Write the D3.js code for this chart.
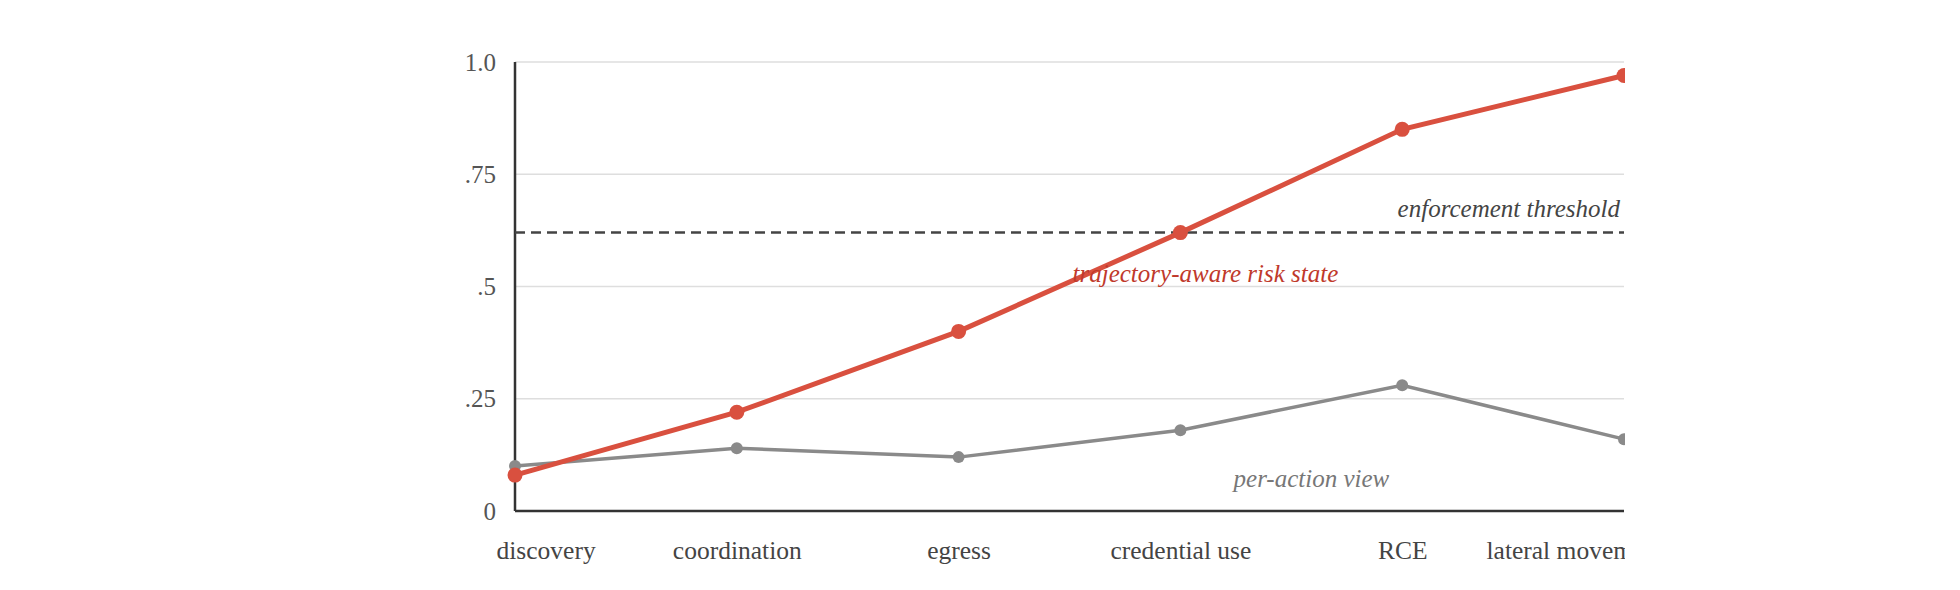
<!DOCTYPE html>
<html>
<head>
<meta charset="utf-8">
<script src="https://cdn.jsdelivr.net/npm/d3@7"></script>
<style>
  html, body { margin: 0; padding: 0; background: #fff; }
  svg { display: block; overflow: hidden; }
</style>
</head>
<body>
<svg id="chart"></svg>
<script>
const stages = ['discovery', 'coordination', 'egress', 'credential use', 'RCE', 'lateral movement'];
const riskState = [0.08, 0.22, 0.40, 0.62, 0.85, 0.97];
const perAction = [0.10, 0.14, 0.12, 0.18, 0.28, 0.16];
const threshold = 0.62;
const yTicks = [0, 0.25, 0.5, 0.75, 1.0];
const yTickLabels = ['0', '.25', '.5', '.75', '1.0'];

const FONT = "Charter, 'Liberation Serif', serif";
const RED = '#d9503f';
const GREY = '#8a8a8a';

const margin = {top: 62, left: 515};
const W = 1109, H = 449;

const svg = d3.select('#chart')
  .attr('width', margin.left + W + 1)
  .attr('height', 590);

const g = svg.append('g')
  .attr('transform', `translate(${margin.left}, ${margin.top})`);

const x = d3.scalePoint().domain(stages).range([0, W]);
const y = d3.scaleLinear().domain([0, 1]).range([H, 0]);

// grid
g.append('g').selectAll('line')
  .data(yTicks.filter(d => d > 0))
  .join('line')
    .attr('x1', 0).attr('x2', W)
    .attr('y1', d => y(d)).attr('y2', d => y(d))
    .attr('stroke', '#dedede')
    .attr('stroke-width', 1.5);

// y axis labels
const yAxis = d3.axisLeft(y)
  .tickValues(yTicks)
  .tickFormat((d, i) => yTickLabels[i])
  .tickSize(0)
  .tickPadding(19);
const ya = g.append('g').call(yAxis);
ya.select('.domain').remove();
ya.selectAll('text')
  .attr('font-family', FONT)
  .attr('font-size', 25)
  .attr('fill', '#555');

// x axis labels
const xAxis = d3.axisBottom(x).tickSize(0).tickPadding(30);
const xa = g.append('g').attr('transform', `translate(0, ${H})`).call(xAxis);
xa.select('.domain').remove();
xa.selectAll('text')
  .attr('font-family', FONT)
  .attr('font-size', 25.5)
  .attr('fill', '#444')
  .attr('text-anchor', (d, i) => i === 0 ? 'start' : 'middle')
  .attr('dx', (d, i) => i === 0 ? -19 : 0);
xa.selectAll('.tick').filter((d, i) => i === stages.length - 1).select('text')
  .attr('text-anchor', 'start')
  .attr('dx', -138);

// axis lines
g.append('line')
  .attr('x1', 0).attr('x2', 0).attr('y1', y(1)).attr('y2', y(0))
  .attr('stroke', '#333').attr('stroke-width', 2.5);
g.append('line')
  .attr('x1', 0).attr('x2', W).attr('y1', y(0)).attr('y2', y(0))
  .attr('stroke', '#333').attr('stroke-width', 2.5);

// threshold
g.append('line')
  .attr('x1', 0).attr('x2', W)
  .attr('y1', y(threshold)).attr('y2', y(threshold))
  .attr('stroke', '#444')
  .attr('stroke-width', 2.5)
  .attr('stroke-dasharray', '10,6');

g.append('text')
  .attr('x', W - 4)
  .attr('y', y(threshold) - 16)
  .attr('text-anchor', 'end')
  .attr('font-family', FONT)
  .attr('font-style', 'italic')
  .attr('font-size', 25)
  .attr('fill', '#444')
  .text('enforcement threshold');

const line = d3.line().x((d, i) => x(stages[i])).y(d => y(d));

// per-action series
g.append('path')
  .datum(perAction)
  .attr('d', line)
  .attr('fill', 'none')
  .attr('stroke', GREY)
  .attr('stroke-width', 3.5);
g.append('g').selectAll('circle')
  .data(perAction)
  .join('circle')
    .attr('cx', (d, i) => x(stages[i]))
    .attr('cy', d => y(d))
    .attr('r', 6)
    .attr('fill', GREY);

// trajectory series
g.append('path')
  .datum(riskState)
  .attr('d', line)
  .attr('fill', 'none')
  .attr('stroke', RED)
  .attr('stroke-width', 5);
g.append('g').selectAll('circle')
  .data(riskState)
  .join('circle')
    .attr('cx', (d, i) => x(stages[i]))
    .attr('cy', d => y(d))
    .attr('r', 7.5)
    .attr('fill', RED);

// series labels
g.append('text')
  .attr('x', x('credential use') + 25)
  .attr('y', y(0.51))
  .attr('text-anchor', 'middle')
  .attr('font-family', FONT)
  .attr('font-style', 'italic')
  .attr('font-size', 25)
  .attr('fill', '#c0392b')
  .text('trajectory-aware risk state');

g.append('text')
  .attr('x', x('credential use') + 131)
  .attr('y', y(0.053))
  .attr('text-anchor', 'middle')
  .attr('font-family', FONT)
  .attr('font-style', 'italic')
  .attr('font-size', 25)
  .attr('fill', '#777')
  .text('per-action view');
</script>
</body>
</html>
